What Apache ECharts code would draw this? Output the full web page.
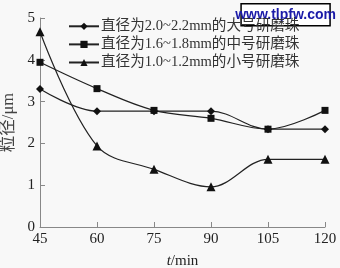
<!DOCTYPE html>
<html><head><meta charset="utf-8">
<script src="https://cdn.jsdelivr.net/npm/echarts@6/dist/echarts.min.js"></script>
<style>html,body{margin:0;padding:0;background:#f8f8f8}#c{width:340px;height:268px}</style>
</head><body><div id="c"></div>
<script>
const categories = [45, 60, 75, 90, 105, 120];
const seriesNames = ['直径为2.0~2.2mm的大号研磨珠', '直径为1.6~1.8mm的中号研磨珠', '直径为1.0~1.2mm的小号研磨珠'];
const large = [3.3, 2.77, 2.77, 2.77, 2.34, 2.34];
const medium = [3.94, 3.31, 2.79, 2.6, 2.34, 2.79];
const small = [4.67, 1.94, 1.38, 0.96, 1.62, 1.62];
const yTicks = [0, 1, 2, 3, 4, 5];

const FONT = '"Liberation Serif", "Noto Sans CJK SC", serif';
const symbols = ['diamond', 'rect', 'triangle'];
const sizes = [8, 7, 9];
const data = [large, medium, small];
const chart = echarts.init(document.getElementById('c'));
chart.setOption({
  backgroundColor: '#f8f8f8',
  animation: false,
  grid: {left: 40, right: 15, top: 18, bottom: 41, containLabel: false, outerBoundsMode: 'none'},
  legend: {
    top: 14, left: 63, orient: 'vertical', itemGap: 3.5, itemWidth: 30, itemHeight: 9,
    textStyle: {fontFamily: FONT, fontSize: 14.6, color: '#333', padding: [0,0,0,-3]},
    data: seriesNames
  },
  xAxis: {
    type: 'value', min: 45, max: 120, interval: 15,
    name: '{i|t}/min', nameLocation: 'middle', nameGap: 27,
    nameTextStyle: {fontFamily: FONT, fontSize: 15, color: '#222', rich: {i: {fontStyle: 'italic', fontFamily: FONT, fontSize: 15, color: '#222'}}},
    axisLine: {lineStyle: {color: '#888', width: 1}},
    axisTick: {inside: true, length: 5, lineStyle: {color: '#888'}},
    axisLabel: {fontFamily: FONT, fontSize: 15, color: '#222', margin: 5},
    splitLine: {show: false}
  },
  yAxis: {
    type: 'value', min: 0, max: 5, interval: 1,
    name: '粒径/μm', nameLocation: 'middle', nameGap: 22,
    nameTextStyle: {fontFamily: FONT, fontSize: 16.5, color: '#444'},
    axisLine: {show: true, lineStyle: {color: '#888', width: 1}},
    axisTick: {show: true, inside: true, length: 5, lineStyle: {color: '#888'}},
    axisLabel: {fontFamily: FONT, fontSize: 15, color: '#222', margin: 5},
    splitLine: {show: false}
  },
  graphic: [{
    type: 'group', right: 4, top: 3,
    children: [
      {type: 'rect', shape: {x: 0, y: 0, width: 89, height: 22}, style: {fill: '#fff', stroke: '#000', lineWidth: 1.5}},
      {type: 'text', x: 44.5, y: 11, style: {text: 'www.tlpfw.com', fontFamily: '"Liberation Sans", Arial, sans-serif', fontWeight: 'bold', fontSize: 14, fill: '#1a1aa8', align: 'center', verticalAlign: 'middle'}}
    ]
  }],
  series: seriesNames.map((n, i) => ({
    name: n, type: 'line', smooth: 0.35,
    data: categories.map((x, j) => [x, data[i][j]]),
    symbol: symbols[i], symbolSize: sizes[i], showSymbol: true,
    lineStyle: {color: '#222', width: 1.2},
    itemStyle: {color: '#111'}
  }))
});
</script></body></html>
